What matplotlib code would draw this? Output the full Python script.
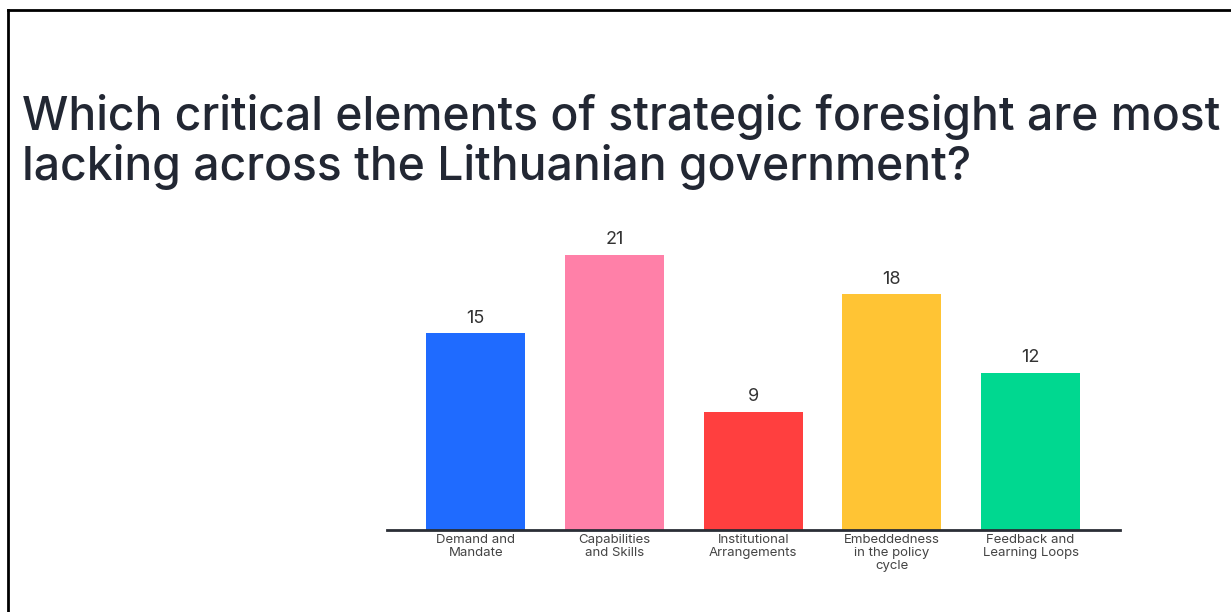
import matplotlib.pyplot as plt
from matplotlib.lines import Line2D

categories = ['Demand and\nMandate', 'Capabilities\nand Skills', 'Institutional\nArrangements',
              'Embeddedness\nin the policy\ncycle', 'Feedback and\nLearning Loops']
counts = [15, 21, 9, 18, 12]
colors = ['#1f6bff', '#ff80a8', '#ff3f3f', '#ffc434', '#00d890']

title = 'Which critical elements of strategic foresight are most\nlacking across the Lithuanian government?'

fig = plt.figure(figsize=(12.31, 6.12), dpi=100)
ax = fig.add_axes([0.3144, 0.134, 0.5955, 0.514])

x = range(len(counts))
bars = ax.bar(x, counts, width=0.713, color=colors)
for b, v in zip(bars, counts):
    ax.text(b.get_x() + b.get_width() / 2, v + 0.5, str(v), ha='center', va='bottom',
            fontsize=13, color='#333333', family='Inter')

ax.set_xlim(-0.64, 4.645)
ax.set_ylim(0, 24)
ax.set_xticks(list(x))
ax.set_xticklabels(categories, fontsize=9.5, color='#444444', linespacing=1.1, family='Inter')
ax.tick_params(axis='x', length=0, pad=3)
ax.set_yticks([])
for s in ['top', 'right', 'left']:
    ax.spines[s].set_visible(False)
ax.spines['bottom'].set_color('#2a2e36')
ax.spines['bottom'].set_linewidth(2)

fig.text(0.018, 0.706, title, fontsize=33.3, color='#222733', fontweight='medium',
         family='Inter', ha='left', va='baseline', linespacing=1.12)

# frame along top and left edges
fig.add_artist(Line2D([0.0065, 1.0], [0.983, 0.983], color='black', lw=2, transform=fig.transFigure))
fig.add_artist(Line2D([0.0065, 0.0065], [0.0, 0.983], color='black', lw=2, transform=fig.transFigure))

fig.savefig('out.png', dpi=100)
